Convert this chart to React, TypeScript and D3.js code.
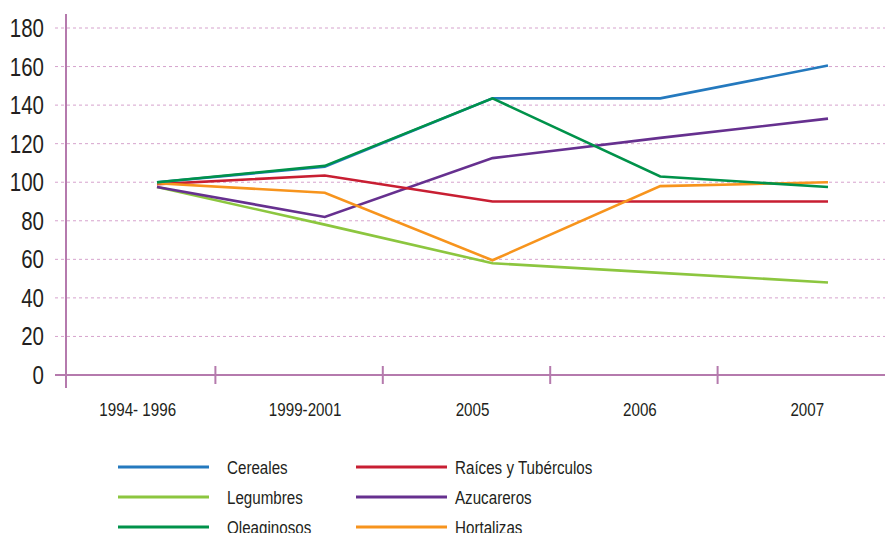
import React from "react";
import * as d3 from "d3";

const categories = ["1994- 1996", "1999-2001", "2005", "2006", "2007"];
const yTicks = [0, 20, 40, 60, 80, 100, 120, 140, 160, 180];

const cereales = [100, 108, 143.5, 143.5, 160.5];
const legumbres = [97.5, 78, 58, 53, 48];
const oleaginosos = [100, 108.5, 143.5, 103, 97.5];
const raices = [99, 103.5, 90, 90, 90];
const azucareros = [97.5, 82, 112.5, 123, 133];
const hortalizas = [99.5, 94.5, 59.5, 98, 100];

const seriesNames = ["Cereales", "Legumbres", "Oleaginosos", "Raíces y Tubérculos", "Azucareros", "Hortalizas"];
const seriesValues = [cereales, legumbres, oleaginosos, raices, azucareros, hortalizas];
const seriesColors = ["#2479be", "#8cc63f", "#00924a", "#c81e32", "#66308f", "#f7941d"];
// drawing order (back to front)
const drawOrder = [1, 4, 3, 5, 0, 2];

const W = 885;
const H = 533;
const FONT = "'Liberation Sans', Arial, sans-serif";
const AXIS = "#b57aad";
const GRID = "#d6a3cd";
const SQUEEZE = 0.82;

function NText(props: { x: number; y: number; size: number; anchor?: string; dy?: string; children: React.ReactNode }) {
  return (
    <text
      transform={`translate(${props.x},${props.y}) scale(${SQUEEZE},1)`}
      dy={props.dy}
      textAnchor={props.anchor || "start"}
      fontFamily={FONT}
      fontSize={props.size}
      fill="#231f20"
    >
      {props.children}
    </text>
  );
}

export default function App() {
  const y = d3.scaleLinear().domain([0, 180]).range([375, 28]);
  const xBand = d3.scaleBand().domain(categories).range([48, 885]);
  const xPt = d3.scalePoint().domain(categories).range([157, 828]);
  const line = d3
    .line<number>()
    .x((_, i) => xPt(categories[i]) as number)
    .y((d) => y(d));

  const boundaries = categories.slice(1).map((c) => xBand(c) as number);

  return (
    <div style={{ position: "absolute", left: 0, top: 0 }}>
      <svg width={W} height={H} style={{ display: "block", background: "#fff" }}>
        {/* gridlines */}
        {yTicks.filter((t) => t > 0).map((t) => (
          <line key={t} x1={55} x2={885} y1={y(t)} y2={y(t)} stroke={GRID} strokeWidth={1} strokeDasharray="3,3" />
        ))}
        {/* y labels */}
        {yTicks.map((t) => (
          <NText key={t} x={44} y={y(t)} dy="0.36em" anchor="end" size={25}>
            {t}
          </NText>
        ))}
        {/* axes */}
        <line x1={66} x2={66} y1={14} y2={388} stroke={AXIS} strokeWidth={2} />
        <line x1={55} x2={885} y1={y(0)} y2={y(0)} stroke={AXIS} strokeWidth={2} />
        {boundaries.map((b, i) => (
          <line key={i} x1={b} x2={b} y1={366} y2={384} stroke={AXIS} strokeWidth={2} />
        ))}
        {/* x labels */}
        {categories.map((c) => (
          <NText key={c} x={(xBand(c) as number) + xBand.bandwidth() / 2 + 6} y={416} anchor="middle" size={18.5}>
            {c}
          </NText>
        ))}
        {/* series */}
        {drawOrder.map((i) => (
          <path key={seriesNames[i]} d={line(seriesValues[i]) || ""} fill="none" stroke={seriesColors[i]} strokeWidth={2.6} strokeLinejoin="miter" />
        ))}
        {/* legend */}
        {seriesNames.map((n, i) => {
          const col = Math.floor(i / 3);
          const row = i % 3;
          const lx = col === 0 ? 118 : 356;
          const tx = col === 0 ? 227 : 455;
          const ly = 467 + row * 30;
          return (
            <g key={n}>
              <line x1={lx} x2={lx + 91} y1={ly} y2={ly} stroke={seriesColors[i]} strokeWidth={3} />
              <NText x={tx} y={ly} dy="0.36em" size={18.5}>
                {n}
              </NText>
            </g>
          );
        })}
      </svg>
    </div>
  );
}
